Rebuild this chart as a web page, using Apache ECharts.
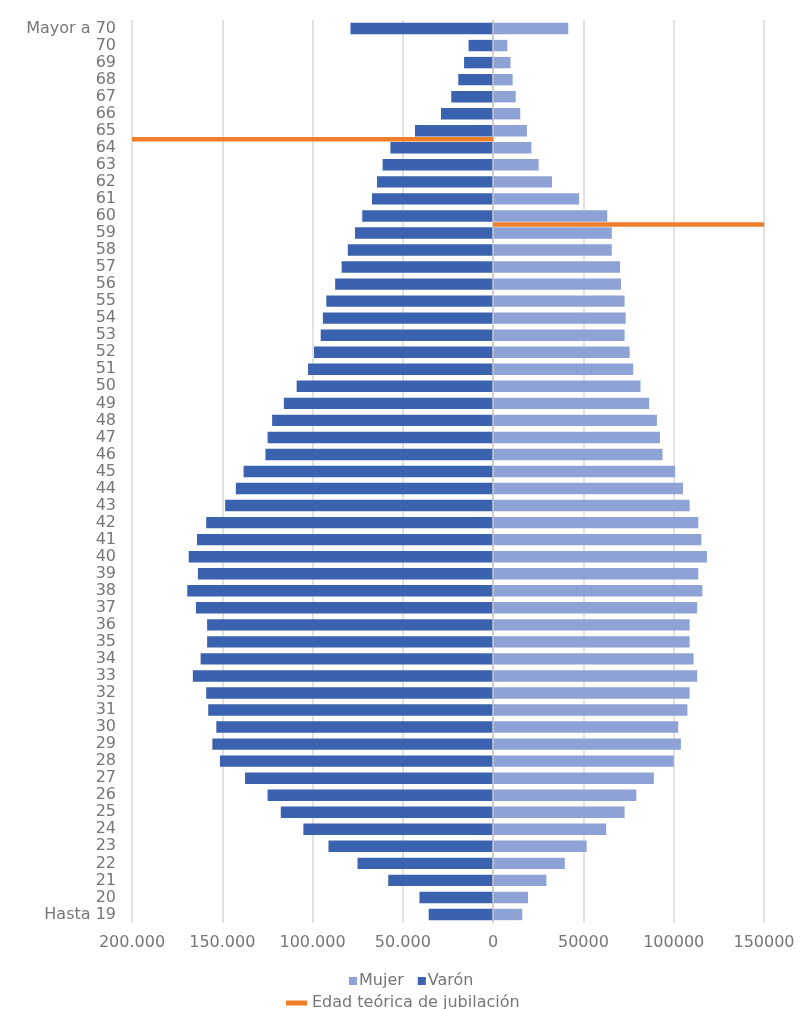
<!DOCTYPE html>
<html>
<head>
<meta charset="utf-8">
<script src="https://cdn.jsdelivr.net/npm/echarts@6/dist/echarts.min.js"></script>
<style>
    html, body { margin: 0; padding: 0; background: #fff; }
    #chart { width: 804px; height: 1009px; }
</style>
</head>
<body>
<div id="chart"></div>
<script>
// edades, de abajo hacia arriba
const edades = ["Hasta 19", "20", "21", "22", "23", "24", "25", "26", "27", "28", "29",
    "30", "31", "32", "33", "34", "35", "36", "37", "38", "39",
    "40", "41", "42", "43", "44", "45", "46", "47", "48", "49",
    "50", "51", "52", "53", "54", "55", "56", "57", "58", "59",
    "60", "61", "62", "63", "64", "65", "66", "67", "68", "69", "70", "Mayor a 70"];

// varones (se dibujan hacia la izquierda)
const varon = [35700, 40800, 58100, 75100, 91200, 105100, 117600, 124900, 137400, 151300, 155500,
    153300, 157800, 158900, 166300, 162000, 158400, 158400, 164600, 169400, 163500,
    168600, 164000, 158900, 148400, 142500, 138200, 126100, 124900, 122400, 115900,
    108800, 102500, 99200, 95500, 94300, 92400, 87500, 83900, 80500, 76500,
    72500, 67100, 64300, 61200, 56900, 43300, 28900, 23200, 19300, 16100, 13600, 79000];

const mujer = [16100, 19300, 29500, 39700, 51800, 62600, 72800, 79300, 89000, 100000, 104000,
    102500, 107600, 108800, 113000, 111000, 108800, 108800, 113000, 115900, 113600,
    118400, 115300, 113600, 108800, 105100, 100800, 93800, 92400, 90700, 86400,
    81600, 77600, 75600, 72800, 73400, 72800, 70800, 70300, 65700, 65700,
    63200, 47600, 32600, 25200, 21200, 18700, 15000, 12500, 10800, 9600, 7900, 41600];

// edad teórica de jubilación (la línea va en el borde inferior de esa edad)
const jubilacionVaron = 65;
const jubilacionMujer = 60;
const xMin = -200000;
const xMax = 150000;

const primeraEdad = 20; // "20" es el índice 1
function posEdad(edad) {
    return edad - primeraEdad + 1 - 0.5;
}

const chart = echarts.init(document.getElementById("chart"));
const fuente = "'DejaVu Sans', sans-serif";
const gris = "#767676";

const option = {
    animation: false,
    textStyle: { fontFamily: fuente },
    grid: { left: 132, right: 40, top: 20, bottom: 86, containLabel: false },
    legend: [
        {
            data: ["Mujer", "Varón"],
            left: 344,
            top: 968,
            itemWidth: 8,
            itemHeight: 8,
            itemGap: 14,
            icon: "rect",
            textStyle: { color: gris, fontSize: 16, fontFamily: fuente, padding: [0, 0, 0, -3] },
        },
        {
            data: ["Edad teórica de jubilación"],
            left: 281,
            top: 990,
            icon: "rect",
            itemWidth: 21,
            itemHeight: 5,
            textStyle: { color: gris, fontSize: 16, fontFamily: fuente },
        },
    ],
    xAxis: {
        type: "value",
        min: xMin,
        max: xMax,
        interval: 50000,
        axisLine: { show: false },
        axisTick: { show: false },
        splitLine: { lineStyle: { color: "#d9d9d9", width: 1.5 } },
        axisLabel: {
            color: gris,
            fontSize: 16,
            margin: 12,
            formatter: function (v) {
                if (v < 0) {
                    return Math.abs(v).toString().replace(/\B(?=(\d{3})+(?!\d))/g, ".");
                }
                return String(v);
            },
        },
    },
    yAxis: [
        {
            type: "category",
            data: edades,
            position: "left",
            axisLine: { onZero: false, show: false },
            axisTick: { show: false },
            axisLabel: { color: gris, fontSize: 16, margin: 16, interval: 0 },
        },
        {
            type: "value",
            min: -0.5,
            max: edades.length - 0.5,
            show: false,
        },
    ],
    series: [
        {
            name: "Varón",
            type: "bar",
            data: varon.map(function (v) { return -v; }),
            barWidth: "67%",
            barGap: "-100%",
            itemStyle: { color: "#3b62ae" },
            z: 2,
        },
        {
            name: "Mujer",
            type: "bar",
            data: mujer,
            barWidth: "67%",
            barGap: "-100%",
            itemStyle: { color: "#8ea2d5" },
            z: 2,
            markLine: {
                silent: true,
                symbol: "none",
                label: { show: false },
                lineStyle: { color: "#c9c9c9", type: "solid", width: 1.5 },
                data: [{ xAxis: 0 }],
            },
        },
        {
            name: "Edad teórica de jubilación",
            type: "line",
            yAxisIndex: 1,
            data: [[xMin, posEdad(jubilacionVaron)], [0, posEdad(jubilacionVaron)]],
            symbol: "none",
            lineStyle: { color: "#f07d2a", width: 4.5 },
            itemStyle: { color: "#f07d2a" },
            z: 5,
        },
        {
            name: "Edad teórica de jubilación",
            type: "line",
            yAxisIndex: 1,
            data: [[0, posEdad(jubilacionMujer)], [xMax, posEdad(jubilacionMujer)]],
            symbol: "none",
            lineStyle: { color: "#f07d2a", width: 4.5 },
            itemStyle: { color: "#f07d2a" },
            z: 5,
        },
    ],
};

chart.setOption(option);
</script>
</body>
</html>
